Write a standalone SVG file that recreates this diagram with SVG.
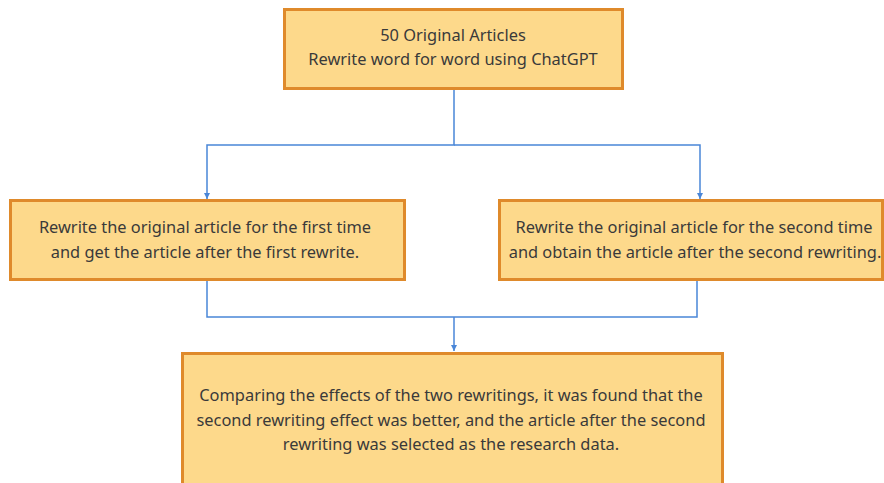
<svg xmlns="http://www.w3.org/2000/svg" width="884" height="483" viewBox="0 0 884 483">
<defs>
<style>
.box{fill:#FDD98B;stroke:#DF8A2B;stroke-width:3}
.t{font-family:"Noto Sans","Open Sans",sans-serif;font-size:16.4px;fill:#3a3a3a;text-anchor:middle}
.c{fill:none;stroke:#4A86D8;stroke-width:1.5}
</style>
<marker id="ah" viewBox="0 0 10 10" refX="10" refY="5" markerWidth="6" markerHeight="6" orient="auto" markerUnits="userSpaceOnUse">
<path d="M0,0 L10,5 L0,10 z" fill="#4A86D8"/>
</marker>
</defs>
<rect width="884" height="483" fill="#ffffff"/>
<g id="connectors">
<path class="c" d="M454,89 V145 H207 V199" marker-end="url(#ah)"/>
<path class="c" d="M454,145 H700 V199" marker-end="url(#ah)"/>
<path class="c" d="M207,280 V317 H697 V280"/>
<path class="c" d="M454,317 V351" marker-end="url(#ah)"/>
</g>
<g id="n1">
<rect class="box" x="284.5" y="9.5" width="338" height="79"/>
<text class="t" x="453" y="41">50 Original Articles</text>
<text class="t" x="453" y="65">Rewrite word for word using ChatGPT</text>
</g>
<g id="n2">
<rect class="box" x="10.5" y="200.5" width="394" height="79"/>
<text class="t" x="205" y="233">Rewrite the original article for the first time</text>
<text class="t" x="205" y="258">and get the article after the first rewrite.</text>
</g>
<g id="n3">
<rect class="box" x="499.5" y="200.5" width="383" height="79"/>
<text class="t" x="694" y="233">Rewrite the original article for the second time</text>
<text class="t" x="695" y="258">and obtain the article after the second rewriting.</text>
</g>
<g id="n4">
<rect class="box" x="182.5" y="353.5" width="540" height="140"/>
<text class="t" x="451" y="401">Comparing the effects of the two rewritings, it was found that the</text>
<text class="t" x="451" y="426">second rewriting effect was better, and the article after the second</text>
<text class="t" x="451" y="450">rewriting was selected as the research data.</text>
</g>
</svg>
